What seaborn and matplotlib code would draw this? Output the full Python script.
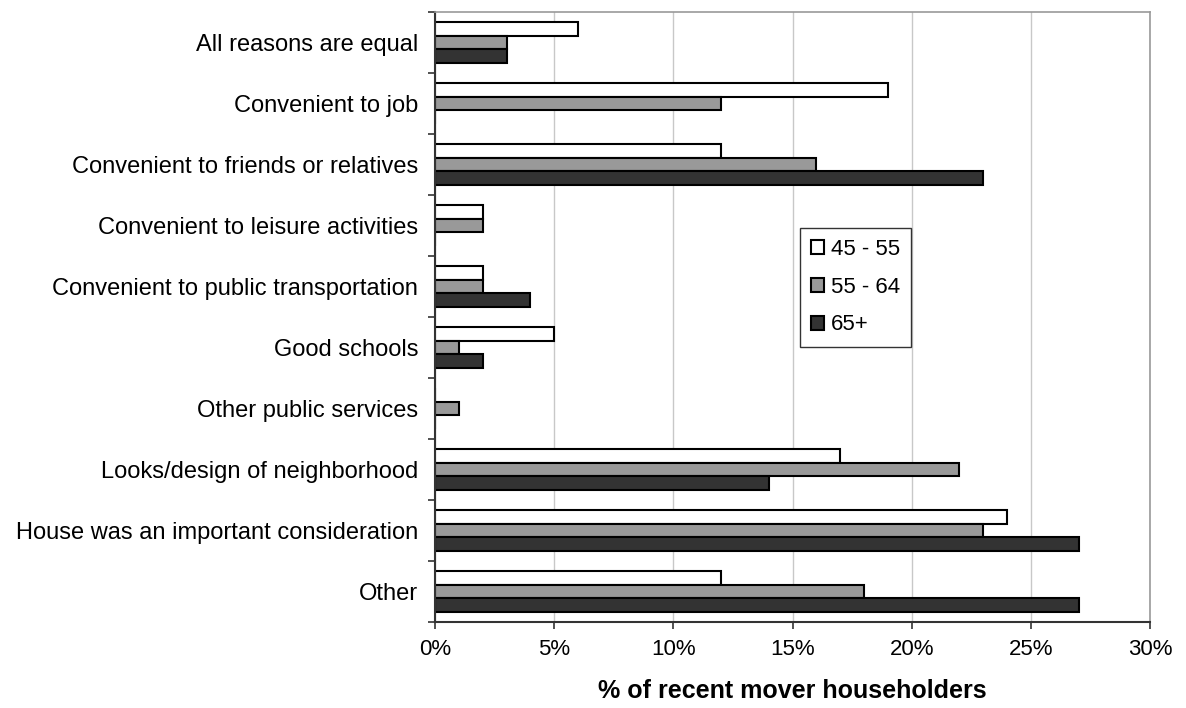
import matplotlib
matplotlib.use("Agg")
import matplotlib.pyplot as plt
import seaborn as sns
import pandas as pd
import numpy as np
from matplotlib.ticker import FixedLocator, FuncFormatter
from matplotlib.patches import Patch

categories = [
    "All reasons are equal",
    "Convenient to job",
    "Convenient to friends or relatives",
    "Convenient to leisure activities",
    "Convenient to public transportation",
    "Good schools",
    "Other public services",
    "Looks/design of neighborhood",
    "House was an important consideration",
    "Other",
]
series_names = ["45 - 55", "55 - 64", "65+"]
s45_55 = [6, 19, 12, 2, 2, 5, 0, 17, 24, 12]
s55_64 = [3, 12, 16, 2, 2, 1, 1, 22, 23, 18]
s65p = [3, 0, 23, 0, 4, 2, 0, 14, 27, 27]
xticks = [0, 5, 10, 15, 20, 25, 30]
xlabel = "% of recent mover householders"

colors = ["#ffffff", "#999999", "#333333"]

rows = []
for name, vals in zip(series_names, [s45_55, s55_64, s65p]):
    for c, v in zip(categories, vals):
        rows.append({"category": c, "series": name, "value": v})
df = pd.DataFrame(rows)

sns.set_style("white")
plt.rcParams["font.family"] = ["Liberation Sans", "DejaVu Sans"]
plt.rcParams["text.color"] = "black"
plt.rcParams["xtick.color"] = "black"
plt.rcParams["ytick.color"] = "black"
plt.rcParams["axes.labelcolor"] = "black"

fig = plt.figure(figsize=(11.86, 7.08), dpi=100)
ax = fig.add_axes([435/1186, 1-622/708, (1150-435)/1186, (622-12)/708])

sns.barplot(data=df, y="category", x="value", hue="series", order=categories,
            hue_order=series_names, palette=colors, orient="h", width=0.68,
            edgecolor="black", linewidth=1.5, ax=ax, legend=False, saturation=1)

ax.set_xlim(0, 30)
ax.set_ylim(len(categories)-0.5, -0.5)
ax.set_xticks(xticks)
ax.xaxis.set_major_formatter(FuncFormatter(lambda v, p: f"{int(v)}%"))
ax.grid(axis="x", color="#c8c8c8", linewidth=1)
ax.set_axisbelow(True)

# y ticks: marks at boundaries, labels at centres
ax.yaxis.set_major_locator(FixedLocator(np.arange(-0.5, len(categories), 1.0)))
ax.yaxis.set_major_formatter(FuncFormatter(lambda v, p: ""))
ax.yaxis.set_minor_locator(FixedLocator(np.arange(len(categories))))
ax.set_yticklabels(categories, minor=True)
ax.tick_params(axis="y", which="minor", length=0, labelsize=17, pad=12)
ax.tick_params(axis="y", which="major", length=5, width=1.2, color="#333333", left=True)
ax.tick_params(axis="x", length=5, width=1.2, color="#333333", labelsize=16, pad=7, bottom=True)

for side in ["left", "bottom"]:
    ax.spines[side].set_color("#333333")
    ax.spines[side].set_linewidth(1.5)
for side in ["top", "right"]:
    ax.spines[side].set_color("#999999")
    ax.spines[side].set_linewidth(1.2)

ax.set_ylabel("")
ax.set_xlabel(xlabel, fontsize=18, fontweight="bold", labelpad=14)

handles = [Patch(facecolor=c, edgecolor="black", linewidth=1.5) for c in colors]
leg = ax.legend(handles, series_names, loc="upper left",
                bbox_to_anchor=((800-435)/715, (622-228)/610),
                fontsize=16, frameon=True, fancybox=False, edgecolor="black",
                handlelength=0.6, handleheight=0.6, handletextpad=0.3,
                labelspacing=0.75, borderpad=0.5, borderaxespad=0)
leg.get_frame().set_linewidth(1.0)

fig.savefig("out.png", dpi=100)
